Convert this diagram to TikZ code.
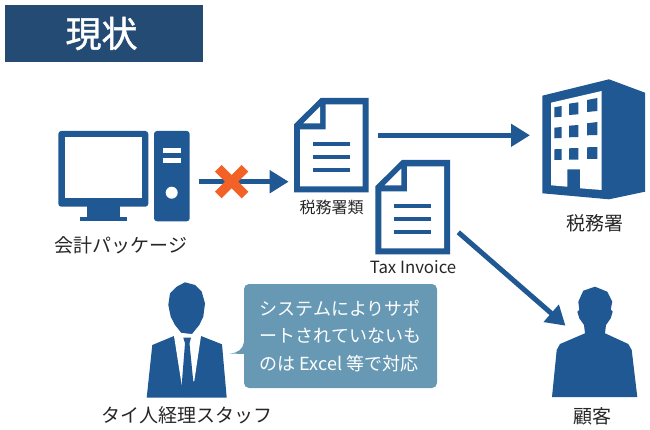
\documentclass[tikz,border=0pt]{standalone}
\usepackage{fontspec}
\usepackage{xcolor}
\setmainfont{Noto Sans CJK JP}
\newfontfamily\titlefont[FakeBold=1.2]{Noto Sans CJK JP}
\usetikzlibrary{arrows.meta}
\definecolor{iconblue}{HTML}{1F5892}
\definecolor{titleblue}{HTML}{234B73}
\definecolor{bubbleblue}{HTML}{6799B4}
\definecolor{crossorange}{HTML}{F26125}
\tikzset{
    iconfill/.style={fill=iconblue, draw=none},
    hole/.style={fill=white, draw=none},
    flow/.style={draw=iconblue, line width=5pt, -{Triangle[length=19pt, width=22pt]}},
    caption/.style={font=\fontsize{19pt}{20pt}\selectfont, text=black!85, inner sep=0pt},
    smallcaption/.style={font=\fontsize{16pt}{18pt}\selectfont, text=black!85, inner sep=0pt},
    docicon/.pic={
        \fill[iconfill] (0,26.3) -- (26.7,0) -- (74.7,0) -- (74.7,94.3) -- (0,94.3) -- cycle;
        \fill[hole] (6,31.3) -- (31.7,31.3) -- (31.7,6.3) -- (68.7,6.3) -- (68.7,88.3) -- (6,88.3) -- cycle;
        \fill[hole] (9.3,25.3) -- (26,8.7) -- (26,25.3) -- cycle;
        \foreach \liney in {43.7, 56.7, 69.7}
            \fill[iconfill] (19,\liney) rectangle (55.7,\liney+4.8);
    }
}

\begin{document}
\begin{tikzpicture}[x=1pt, y=-1pt]
    \useasboundingbox (0,0) rectangle (650,430);

    % title
    \node[fill=titleblue, text=white, minimum width=198pt, minimum height=57pt, inner sep=0pt,
        font=\fontsize{36pt}{38pt}\titlefont] (title) at (104,33.5) {現状\hspace*{5pt}};

    % computer
    \fill[iconfill, rounded corners=3pt] (58.3,131) rectangle (148.3,206.7);
    \fill[hole] (64.7,137.3) rectangle (142,198.3);
    \fill[iconfill] (86.7,206) rectangle (120,217);
    \fill[iconfill] (80,216.7) rectangle (126.7,221.3);
    \fill[iconfill, rounded corners=3pt] (154,131) rectangle (189.7,221.3);
    \fill[hole] (163,148) rectangle (181,152.7);
    \fill[hole] (163,158.3) rectangle (181,162.7);
    \fill[hole] (171.7,192.7) circle (6);
    \node[caption] (pclabel) at (121,245) {会計パッケージ};

    % documents
    \pic at (294,98) {docicon};
    \pic at (375.3,160) {docicon};
    \node[smallcaption] (doclabel) at (331.5,207.5) {税務署類};
    \node[smallcaption, font=\fontsize{16.8pt}{18pt}\selectfont] (invoicelabel) at (413,267) {Tax Invoice};

    % tax office
    \fill[iconfill] (542.3,95.7) -- (609,79.3) -- (645,92.7) -- (645,191.7) -- (609,199.3) -- (542.3,193.3) -- cycle;
    \fill[hole] (551,102.7) -- (601.7,91) -- (601.7,190) -- (580,188.3) -- (580,169.3) -- (567.3,169.3) -- (567.3,186.7) -- (551,185.3) -- cycle;
    \foreach \xa/\xb/\ya/\yb/\yc/\yd in {
        554.3/561.7/107.3/106/117.3/116.7,
        569/578.3/103.7/102.3/115/114.3,
        587/597.3/100/98/112/111,
        554.3/561.7/127.7/127/138.3/138,
        569/578.3/125.7/125/137.3/137,
        587/597.3/123.3/122/135.3/135,
        554.3/561.7/149.3/149/160/160,
        569/578.3/148.3/148/159.7/159.7,
        587/597.3/147.3/147/159/159}
        \fill[iconfill] (\xa,\ya) -- (\xb,\yb) -- (\xb,\yd) -- (\xa,\yc) -- cycle;
    \node[caption] (officelabel) at (595,223) {税務署};

    % staff
    \fill[iconfill] (185,282.3) -- (176.7,286.7) -- (170,293.3) -- (168.3,305) -- (170.7,316.7) -- (175,325) -- (181.7,333.3) -- (191.7,334.3) -- (199.3,325) -- (203.3,316.7) -- (205,303.3) -- (201.7,291.7) -- (195,285) -- cycle;
    \fill[iconfill] (174,336) -- (152.3,345) -- (146.7,397.7) -- (226.7,397.7) -- (222,344.3) -- (201,336) -- cycle;
    \fill[hole] (174,336) -- (181.7,385) -- (194.3,381) -- (201,336) -- (191.7,334) -- (181.7,333) -- cycle;
    \fill[iconfill] (183.3,337.7) -- (191,337.7) -- (189.5,343.3) -- (193.3,381.7) -- (186,397.7) -- (181.7,385) -- (185,343.3) -- cycle;
    \node[caption] (stafflabel) at (187,415) {タイ人経理スタッフ};

    % callout
    \fill[bubbleblue] (244,342) .. controls (243,349) and (238,353) .. (230,353.5) -- (244,354) -- cycle;
    \node[fill=bubbleblue, rounded corners=5pt, minimum width=193pt, minimum height=104pt, inner sep=0pt,
        text=white, align=left, font=\fontsize{18pt}{27.3pt}\selectfont] (bubble) at (340.5,336) {システムによりサポ\\ートされていないも\\のは Excel 等で対応};

    % customer
    \fill[iconfill] (595,286.7) -- (583.3,290.7) -- (578.3,301.7) -- (579.3,310) -- (577.3,311.7) -- (579.3,318.3) -- (584,325) -- (585,333.3) -- (560,344) -- (556.7,350) -- (552,397) -- (637.3,397) -- (631.7,350) -- (628.3,344) -- (605,333.3) -- (606,325) -- (610.7,318.3) -- (612.7,311.7) -- (610.7,309.3) -- (612.3,301.7) -- (607.3,291.7) -- cycle;
    \node[caption] (customerlabel) at (592.5,416) {顧客};

    % connectors
    \coordinate (pcout) at (199,181.7);
    \coordinate (docin) at (288.7,181.7);
    \coordinate (docout) at (378,135.3);
    \coordinate (officein) at (530,135.3);
    \coordinate (invoiceout) at (458.3,232.3);
    \coordinate (customerin) at (565.5,325.7);
    \draw[flow] (pcout) -- (docin);
    \draw[flow] (docout) -- (officein);
    \draw[flow] (invoiceout) -- (customerin);

    % blocked mark
    \coordinate (crossa) at (218.3,168.3);
    \coordinate (crossb) at (245,195);
    \coordinate (crossc) at (245,168.3);
    \coordinate (crossd) at (218.3,195);
    \draw[crossorange, line width=9.4pt] (crossa) -- (crossb)
        (crossc) -- (crossd);
\end{tikzpicture}
\end{document}
